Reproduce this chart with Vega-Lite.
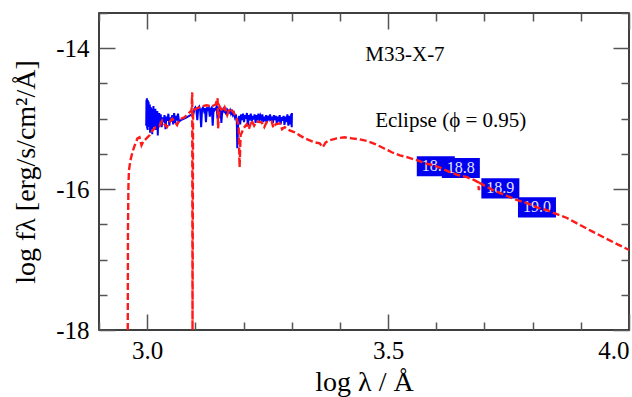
{
  "$schema": "https://vega.github.io/schema/vega-lite/v6.json",
  "width": 530,
  "height": 317,
  "autosize": "none",
  "padding": {"left": 99, "top": 13, "right": 3, "bottom": 67},
  "config": {
    "font": "Liberation Serif",
    "view": {"stroke": "black", "strokeWidth": 1.5},
    "axis": {"domain": false, "grid": false, "tickColor": "#555", "tickWidth": 1.5, "labelFont": "Liberation Serif", "titleFont": "Liberation Serif", "labelFontSize": 25, "titleFontSize": 28, "titleFontWeight": "normal", "labelColor": "black", "titleColor": "black"}
  },
  "datasets": {
    "blue": [
      {"lx": 2.998, "f": -15.10}, {"lx": 2.9985, "f": -14.73}, {"lx": 2.999, "f": -15.05}, {"lx": 2.9995, "f": -14.71},
      {"lx": 3.000, "f": -15.14}, {"lx": 3.0005, "f": -14.78}, {"lx": 3.001, "f": -15.16}, {"lx": 3.0015, "f": -14.74},
      {"lx": 3.002, "f": -15.00}, {"lx": 3.003, "f": -14.76}, {"lx": 3.0035, "f": -15.12}, {"lx": 3.004, "f": -14.83},
      {"lx": 3.005, "f": -15.05}, {"lx": 3.0055, "f": -14.80}, {"lx": 3.006, "f": -15.20}, {"lx": 3.007, "f": -14.88},
      {"lx": 3.0075, "f": -15.08}, {"lx": 3.008, "f": -14.84}, {"lx": 3.009, "f": -15.14}, {"lx": 3.010, "f": -14.86},
      {"lx": 3.0105, "f": -15.22}, {"lx": 3.011, "f": -14.93}, {"lx": 3.012, "f": -15.05}, {"lx": 3.013, "f": -14.82},
      {"lx": 3.014, "f": -15.12}, {"lx": 3.015, "f": -14.90}, {"lx": 3.016, "f": -15.02}, {"lx": 3.017, "f": -14.86},
      {"lx": 3.018, "f": -15.16}, {"lx": 3.019, "f": -14.93}, {"lx": 3.020, "f": -15.06}, {"lx": 3.021, "f": -14.89},
      {"lx": 3.022, "f": -15.24}, {"lx": 3.023, "f": -14.97}, {"lx": 3.024, "f": -15.08}, {"lx": 3.025, "f": -14.92},
      {"lx": 3.026, "f": -15.04}, {"lx": 3.028, "f": -14.94}, {"lx": 3.030, "f": -15.12}, {"lx": 3.032, "f": -14.98},
      {"lx": 3.034, "f": -15.05}, {"lx": 3.036, "f": -14.95}, {"lx": 3.038, "f": -15.15}, {"lx": 3.040, "f": -14.97},
      {"lx": 3.042, "f": -15.03}, {"lx": 3.044, "f": -14.93}, {"lx": 3.046, "f": -15.10}, {"lx": 3.048, "f": -14.98},
      {"lx": 3.050, "f": -15.04}, {"lx": 3.052, "f": -14.95}, {"lx": 3.054, "f": -15.08}, {"lx": 3.056, "f": -14.92},
      {"lx": 3.058, "f": -15.06}, {"lx": 3.060, "f": -14.96}, {"lx": 3.062, "f": -15.00}, {"lx": 3.064, "f": -14.93},
      {"lx": 3.066, "f": -15.04}, {"lx": 3.070, "f": -15.02}, {"lx": 3.080, "f": -14.99}, {"lx": 3.090, "f": -14.95},
      {"lx": 3.096, "f": -14.93}, {"lx": 3.098, "f": -14.86}, {"lx": 3.100, "f": -14.84}, {"lx": 3.102, "f": -14.87},
      {"lx": 3.104, "f": -15.02}, {"lx": 3.106, "f": -14.85}, {"lx": 3.108, "f": -14.83}, {"lx": 3.110, "f": -14.88},
      {"lx": 3.112, "f": -15.12}, {"lx": 3.114, "f": -14.86}, {"lx": 3.116, "f": -14.84}, {"lx": 3.118, "f": -14.89},
      {"lx": 3.120, "f": -14.85}, {"lx": 3.122, "f": -15.05}, {"lx": 3.124, "f": -14.84}, {"lx": 3.126, "f": -14.87},
      {"lx": 3.128, "f": -14.85}, {"lx": 3.130, "f": -14.97}, {"lx": 3.132, "f": -14.86}, {"lx": 3.134, "f": -14.84},
      {"lx": 3.136, "f": -15.10}, {"lx": 3.138, "f": -14.85}, {"lx": 3.140, "f": -14.88}, {"lx": 3.142, "f": -14.86},
      {"lx": 3.144, "f": -14.83}, {"lx": 3.146, "f": -15.00}, {"lx": 3.148, "f": -14.86}, {"lx": 3.150, "f": -14.89},
      {"lx": 3.152, "f": -14.87}, {"lx": 3.154, "f": -15.06}, {"lx": 3.156, "f": -14.88}, {"lx": 3.158, "f": -14.86},
      {"lx": 3.160, "f": -14.90}, {"lx": 3.162, "f": -14.88}, {"lx": 3.164, "f": -14.94}, {"lx": 3.166, "f": -14.87},
      {"lx": 3.168, "f": -14.89}, {"lx": 3.170, "f": -14.91}, {"lx": 3.172, "f": -14.88}, {"lx": 3.174, "f": -14.93},
      {"lx": 3.176, "f": -14.90}, {"lx": 3.178, "f": -14.95}, {"lx": 3.180, "f": -14.92}, {"lx": 3.182, "f": -14.98},
      {"lx": 3.184, "f": -14.94}, {"lx": 3.186, "f": -15.05}, {"lx": 3.187, "f": -15.42}, {"lx": 3.189, "f": -15.05},
      {"lx": 3.191, "f": -14.96}, {"lx": 3.193, "f": -15.08}, {"lx": 3.195, "f": -14.94}, {"lx": 3.197, "f": -15.02},
      {"lx": 3.199, "f": -14.93}, {"lx": 3.201, "f": -15.05}, {"lx": 3.203, "f": -14.95}, {"lx": 3.205, "f": -15.00},
      {"lx": 3.207, "f": -14.92}, {"lx": 3.209, "f": -15.10}, {"lx": 3.211, "f": -14.95}, {"lx": 3.213, "f": -14.99},
      {"lx": 3.215, "f": -14.93}, {"lx": 3.217, "f": -15.04}, {"lx": 3.219, "f": -14.96}, {"lx": 3.221, "f": -15.01},
      {"lx": 3.223, "f": -14.94}, {"lx": 3.225, "f": -15.06}, {"lx": 3.227, "f": -14.95}, {"lx": 3.229, "f": -14.99},
      {"lx": 3.231, "f": -14.93}, {"lx": 3.233, "f": -15.03}, {"lx": 3.235, "f": -14.96}, {"lx": 3.237, "f": -15.00},
      {"lx": 3.239, "f": -14.94}, {"lx": 3.241, "f": -15.05}, {"lx": 3.243, "f": -14.97}, {"lx": 3.245, "f": -15.01},
      {"lx": 3.247, "f": -14.95}, {"lx": 3.249, "f": -15.04}, {"lx": 3.251, "f": -14.96}, {"lx": 3.253, "f": -15.00},
      {"lx": 3.255, "f": -14.94}, {"lx": 3.257, "f": -15.03}, {"lx": 3.259, "f": -14.97}, {"lx": 3.261, "f": -15.06},
      {"lx": 3.263, "f": -14.95}, {"lx": 3.265, "f": -15.02}, {"lx": 3.267, "f": -14.96}, {"lx": 3.269, "f": -15.07},
      {"lx": 3.271, "f": -14.97}, {"lx": 3.273, "f": -15.04}, {"lx": 3.275, "f": -14.95}, {"lx": 3.277, "f": -15.08},
      {"lx": 3.279, "f": -14.98}, {"lx": 3.281, "f": -15.03}, {"lx": 3.283, "f": -14.96}, {"lx": 3.285, "f": -15.09},
      {"lx": 3.287, "f": -14.97}, {"lx": 3.289, "f": -15.05}, {"lx": 3.291, "f": -14.94}, {"lx": 3.293, "f": -15.10},
      {"lx": 3.295, "f": -14.96}, {"lx": 3.297, "f": -15.08}, {"lx": 3.299, "f": -14.93}, {"lx": 3.300, "f": -15.12},
      {"lx": 3.3005, "f": -14.92}
    ],
    "red": [
      {"lx": 2.9597, "f": -18.0}, {"lx": 2.9601, "f": -16.58}, {"lx": 2.9611, "f": -15.945}, {"lx": 2.9622, "f": -15.73},
      {"lx": 2.9653, "f": -15.59}, {"lx": 2.9694, "f": -15.477}, {"lx": 2.9736, "f": -15.39}, {"lx": 2.9798, "f": -15.28},
      {"lx": 2.9840, "f": -15.265}, {"lx": 2.9882, "f": -15.378}, {"lx": 2.9923, "f": -15.32}, {"lx": 2.9985, "f": -15.28},
      {"lx": 3.0048, "f": -15.237}, {"lx": 3.0110, "f": -15.166}, {"lx": 3.0172, "f": -15.123}, {"lx": 3.0256, "f": -15.109},
      {"lx": 3.0310, "f": -15.03}, {"lx": 3.0359, "f": -15.08}, {"lx": 3.0410, "f": -15.12}, {"lx": 3.0463, "f": -15.05},
      {"lx": 3.0520, "f": -15.00}, {"lx": 3.0567, "f": -15.04}, {"lx": 3.0620, "f": -15.09}, {"lx": 3.0671, "f": -15.01},
      {"lx": 3.0775, "f": -14.98}, {"lx": 3.0858, "f": -14.925}, {"lx": 3.0921, "f": -14.88}, {"lx": 3.0935, "f": -14.627},
      {"lx": 3.0941, "f": -18.0}, {"lx": 3.0952, "f": -14.88}, {"lx": 3.1025, "f": -14.854}, {"lx": 3.1128, "f": -14.826},
      {"lx": 3.1232, "f": -14.81}, {"lx": 3.1336, "f": -14.826}, {"lx": 3.1420, "f": -14.80}, {"lx": 3.1461, "f": -14.71},
      {"lx": 3.1471, "f": -15.137}, {"lx": 3.1503, "f": -14.826}, {"lx": 3.1560, "f": -14.90}, {"lx": 3.1607, "f": -14.84},
      {"lx": 3.1660, "f": -14.95}, {"lx": 3.1711, "f": -14.854}, {"lx": 3.1793, "f": -14.91}, {"lx": 3.1856, "f": -14.996},
      {"lx": 3.1898, "f": -15.095}, {"lx": 3.1918, "f": -15.69}, {"lx": 3.1939, "f": -15.237}, {"lx": 3.2001, "f": -15.137},
      {"lx": 3.2063, "f": -15.08}, {"lx": 3.2110, "f": -15.15}, {"lx": 3.2167, "f": -15.024}, {"lx": 3.2220, "f": -15.10},
      {"lx": 3.2271, "f": -15.04}, {"lx": 3.2375, "f": -15.052}, {"lx": 3.2430, "f": -15.12}, {"lx": 3.2479, "f": -15.052},
      {"lx": 3.2583, "f": -15.04}, {"lx": 3.2620, "f": -15.13}, {"lx": 3.2666, "f": -15.08}, {"lx": 3.2749, "f": -15.067},
      {"lx": 3.2800, "f": -15.15}, {"lx": 3.2853, "f": -15.12}, {"lx": 3.2957, "f": -15.166},
      {"lx": 3.3061, "f": -15.194}, {"lx": 3.3165, "f": -15.237}, {"lx": 3.3269, "f": -15.279}, {"lx": 3.3373, "f": -15.307},
      {"lx": 3.3476, "f": -15.336}, {"lx": 3.3580, "f": -15.35}, {"lx": 3.3643, "f": -15.406}, {"lx": 3.3705, "f": -15.336},
      {"lx": 3.3788, "f": -15.307}, {"lx": 3.3934, "f": -15.279}, {"lx": 3.4100, "f": -15.265}, {"lx": 3.4246, "f": -15.279},
      {"lx": 3.4412, "f": -15.293}, {"lx": 3.4579, "f": -15.32}, {"lx": 3.4745, "f": -15.364}, {"lx": 3.4911, "f": -15.42},
      {"lx": 3.5077, "f": -15.477}, {"lx": 3.5243, "f": -15.52}, {"lx": 3.5410, "f": -15.55}, {"lx": 3.5597, "f": -15.59},
      {"lx": 3.5763, "f": -15.633}, {"lx": 3.5929, "f": -15.66}, {"lx": 3.6095, "f": -15.70}, {"lx": 3.6282, "f": -15.76},
      {"lx": 3.6449, "f": -15.80}, {"lx": 3.6636, "f": -15.83}, {"lx": 3.6781, "f": -15.87}, {"lx": 3.6864, "f": -15.90},
      {"lx": 3.6885, "f": -16.015}, {"lx": 3.6906, "f": -15.916}, {"lx": 3.7030, "f": -15.96}, {"lx": 3.7176, "f": -16.015},
      {"lx": 3.7342, "f": -16.06}, {"lx": 3.7529, "f": -16.115}, {"lx": 3.7696, "f": -16.16}, {"lx": 3.7883, "f": -16.20},
      {"lx": 3.8090, "f": -16.26}, {"lx": 3.8298, "f": -16.30}, {"lx": 3.8506, "f": -16.356}, {"lx": 3.8714, "f": -16.41},
      {"lx": 3.8984, "f": -16.51}, {"lx": 3.9233, "f": -16.60}, {"lx": 3.9503, "f": -16.695}, {"lx": 3.9753, "f": -16.78},
      {"lx": 4.0002, "f": -16.865}
    ],
    "phot": [
      {"band": 1, "lx": 3.599, "f": -15.676, "mag": "18.7"},
      {"band": 2, "lx": 3.651, "f": -15.70, "mag": "18.8"},
      {"band": 3, "lx": 3.733, "f": -15.99, "mag": "18.9"},
      {"band": 4, "lx": 3.809, "f": -16.26, "mag": "19.0"}
    ],
    "notes": [
      {"lx": 3.535, "f": -14.09, "text": "M33-X-7"},
      {"lx": 3.630, "f": -15.04, "text": "Eclipse (ϕ = 0.95)"}
    ]
  },
  "layer": [
    {
      "data": {"name": "blue"},
      "mark": {"type": "line", "color": "#0000ff", "strokeWidth": 2, "clip": true},
      "encoding": {
        "x": {"field": "lx", "type": "quantitative", "scale": {"domain": [2.9, 4.0], "nice": false, "zero": false},
          "axis": {"orient": "bottom", "values": [2.9, 3.0, 3.1, 3.2, 3.3, 3.4, 3.5, 3.6, 3.7, 3.8, 3.9, 4.0],
            "labelExpr": "abs(datum.value*2 - round(datum.value*2)) < 0.001 ? format(datum.value, '.1f') : ''",
            "tickSize": {"condition": {"test": "abs(datum.value*2 - round(datum.value*2)) < 0.001", "value": -16}, "value": -8},
            "labelFlush": true, "labelPadding": 24, "title": "log λ / Å", "titlePadding": 5}},
        "y": {"field": "f", "type": "quantitative", "scale": {"domain": [-18, -13.5], "nice": false, "zero": false},
          "axis": {"orient": "left", "values": [-18, -17.5, -17, -16.5, -16, -15.5, -15, -14.5, -14, -13.5],
            "labelExpr": "datum.value % 2 == 0 ? '-' + format(abs(datum.value), 'd') : ''",
            "tickSize": {"condition": {"test": "datum.value % 2 == 0", "value": -16}, "value": -8},
            "labelPadding": 26, "title": "log fλ [erg/s/cm²/Å]", "titlePadding": 15}}
      }
    },
    {"data": {"name": "phot"}, "transform": [{"filter": "datum.band == 1"}], "layer": [
      {"mark": {"type": "point", "shape": "M-1,-0.53H1V0.53H-1Z", "size": 1444, "filled": true, "color": "#0000ee", "opacity": 1},
       "encoding": {"x": {"field": "lx", "type": "quantitative", "axis": null}, "y": {"field": "f", "type": "quantitative", "axis": null}}},
      {"mark": {"type": "text", "color": "#e4e4ff", "fontSize": 16, "font": "Liberation Serif"},
       "encoding": {"x": {"field": "lx", "type": "quantitative", "axis": null}, "y": {"field": "f", "type": "quantitative", "axis": null}, "text": {"field": "mag"}}}
    ]},
    {"data": {"name": "phot"}, "transform": [{"filter": "datum.band == 2"}], "layer": [
      {"mark": {"type": "point", "shape": "M-1,-0.53H1V0.53H-1Z", "size": 1444, "filled": true, "color": "#0000ee", "opacity": 1},
       "encoding": {"x": {"field": "lx", "type": "quantitative", "axis": null}, "y": {"field": "f", "type": "quantitative", "axis": null}}},
      {"mark": {"type": "text", "color": "#e4e4ff", "fontSize": 16, "font": "Liberation Serif"},
       "encoding": {"x": {"field": "lx", "type": "quantitative", "axis": null}, "y": {"field": "f", "type": "quantitative", "axis": null}, "text": {"field": "mag"}}}
    ]},
    {"data": {"name": "phot"}, "transform": [{"filter": "datum.band == 3"}], "layer": [
      {"mark": {"type": "point", "shape": "M-1,-0.53H1V0.53H-1Z", "size": 1444, "filled": true, "color": "#0000ee", "opacity": 1},
       "encoding": {"x": {"field": "lx", "type": "quantitative", "axis": null}, "y": {"field": "f", "type": "quantitative", "axis": null}}},
      {"mark": {"type": "text", "color": "#e4e4ff", "fontSize": 16, "font": "Liberation Serif"},
       "encoding": {"x": {"field": "lx", "type": "quantitative", "axis": null}, "y": {"field": "f", "type": "quantitative", "axis": null}, "text": {"field": "mag"}}}
    ]},
    {"data": {"name": "phot"}, "transform": [{"filter": "datum.band == 4"}], "layer": [
      {"mark": {"type": "point", "shape": "M-1,-0.53H1V0.53H-1Z", "size": 1444, "filled": true, "color": "#0000ee", "opacity": 1},
       "encoding": {"x": {"field": "lx", "type": "quantitative", "axis": null}, "y": {"field": "f", "type": "quantitative", "axis": null}}},
      {"mark": {"type": "text", "color": "#e4e4ff", "fontSize": 16, "font": "Liberation Serif"},
       "encoding": {"x": {"field": "lx", "type": "quantitative", "axis": null}, "y": {"field": "f", "type": "quantitative", "axis": null}, "text": {"field": "mag"}}}
    ]},
    {
      "data": {"name": "red"},
      "mark": {"type": "line", "color": "#ff1a1a", "strokeWidth": 2.4, "strokeDash": [7, 3], "clip": true},
      "encoding": {
        "x": {"field": "lx", "type": "quantitative", "axis": null},
        "y": {"field": "f", "type": "quantitative", "axis": null}
      }
    },
    {
      "data": {"name": "notes"},
      "mark": {"type": "text", "fontSize": 21, "font": "Liberation Serif", "color": "black"},
      "encoding": {
        "x": {"field": "lx", "type": "quantitative",
          "axis": {"orient": "top", "values": [2.9, 3.0, 3.1, 3.2, 3.3, 3.4, 3.5, 3.6, 3.7, 3.8, 3.9, 4.0], "labels": false, "title": null,
            "tickSize": {"condition": {"test": "abs(datum.value*2 - round(datum.value*2)) < 0.001", "value": -16}, "value": -8}}},
        "y": {"field": "f", "type": "quantitative",
          "axis": {"orient": "right", "values": [-18, -17.5, -17, -16.5, -16, -15.5, -15, -14.5, -14, -13.5], "labels": false, "title": null,
            "tickSize": {"condition": {"test": "datum.value % 2 == 0", "value": -16}, "value": -8}}},
        "text": {"field": "text"}
      }
    }
  ],
  "resolve": {"axis": {"x": "independent", "y": "independent"}}
}
